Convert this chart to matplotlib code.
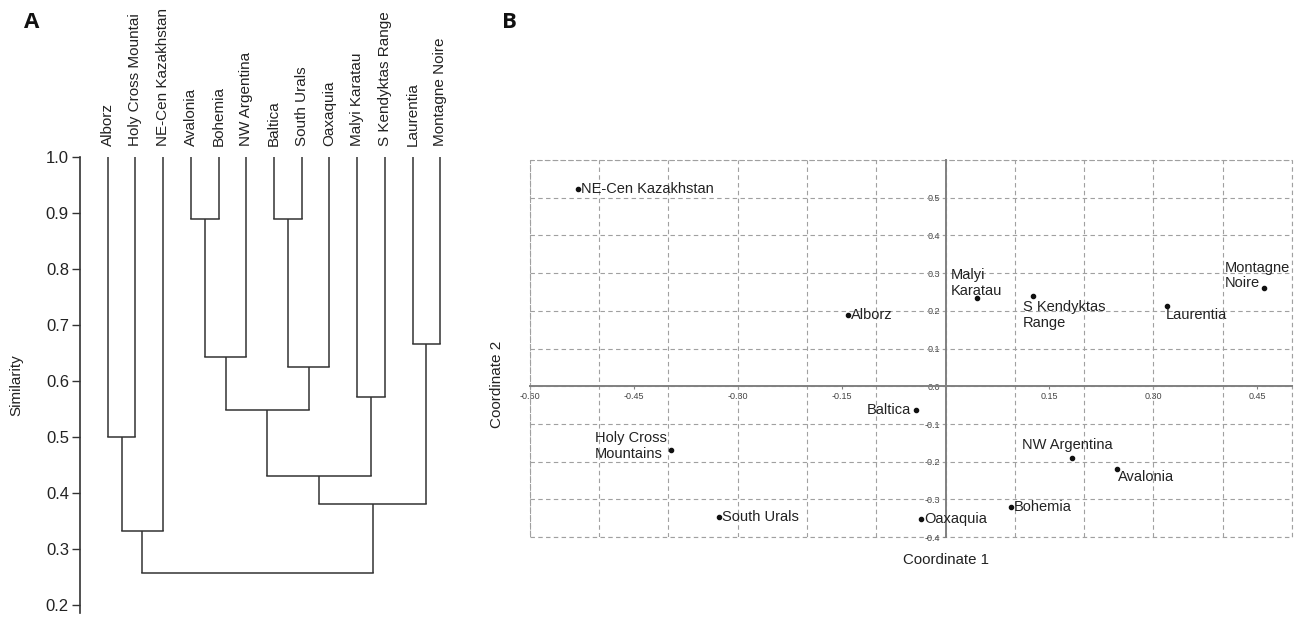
import numpy as np
import matplotlib
matplotlib.use("Agg")
import matplotlib.pyplot as plt
from matplotlib.patches import Rectangle

plt.rcParams["font.family"] = ["Liberation Sans", "DejaVu Sans"]

# --- DATOS ---
# dendrograma (A): hojas en orden y uniones (indices tipo scipy, hojas 0..12)
hojas = ["Alborz", "Holy Cross Mountai", "NE-Cen Kazakhstan", "Avalonia", "Bohemia",
         "NW Argentina", "Baltica", "South Urals", "Oaxaquia", "Malyi Karatau",
         "S Kendyktas Range", "Laurentia", "Montagne Noire"]
union_izq = [3, 6, 13, 14, 9, 11, 0, 15, 20, 21, 19, 23]
union_der = [4, 7, 5, 8, 10, 12, 1, 16, 17, 18, 2, 22]
union_sim = [0.889, 0.889, 0.643, 0.625, 0.572, 0.667, 0.500, 0.548, 0.430, 0.381, 0.333, 0.257]
sim_ticks = [0.2, 0.3, 0.4, 0.5, 0.6, 0.7, 0.8, 0.9, 1.0]

# PCoA / MDS (B)
sitios = ["NE-Cen Kazakhstan", "Alborz", "Malyi\nKaratau", "S Kendyktas\nRange", "Laurentia",
          "Montagne\nNoire", "Baltica", "Holy Cross\nMountains", "South Urals", "Oaxaquia",
          "Bohemia", "NW Argentina", "Avalonia"]
coord1 = [-0.530, -0.141, 0.045, 0.126, 0.320, 0.460, -0.042, -0.396, -0.327, -0.035, 0.094, 0.182, 0.247]
coord2 = [0.522, 0.190, 0.234, 0.239, 0.213, 0.260, -0.062, -0.169, -0.347, -0.353, -0.321, -0.191, -0.220]
x_ticks_b = [-0.60, -0.45, -0.30, -0.15, 0.15, 0.30, 0.45]
y_ticks_b = [-0.4, -0.3, -0.2, -0.1, 0.0, 0.1, 0.2, 0.3, 0.4, 0.5]

# colocacion de etiquetas (pixeles): dx, dy, ha, va
ETIQ = {
    "NE-Cen Kazakhstan": (3, 0, "left", "center"),
    "Alborz": (3, 0, "left", "center"),
    "Malyi\nKaratau": (-26, 0, "left", "bottom"),
    "S Kendyktas\nRange": (-10, -4, "left", "top"),
    "Laurentia": (-2, -2, "left", "top"),
    "Montagne\nNoire": (-40, -2, "left", "bottom"),
    "Baltica": (-5, 0, "right", "center"),
    "Holy Cross\nMountains": (-4, 4, "right", "center"),
    "South Urals": (3, 0, "left", "center"),
    "Oaxaquia": (3, 0, "left", "center"),
    "Bohemia": (3, 0, "left", "center"),
    "NW Argentina": (-4, 6, "center", "bottom"),
    "Avalonia": (1, -1, "left", "top"),
}

GRIS_REJILLA = "#a0a0a0"
TRAZO = (0, (4, 3))

fig = plt.figure(figsize=(12.95, 6.17), dpi=100)

# --- PANEL A: dendrograma ---
axA = fig.add_axes([80 / 1295, 4 / 617, 388 / 1295, 456 / 617])
LINEA = "#333333"
pos_x = {i: i + 1.0 for i in range(len(hojas))}
altura = {i: 1.0 for i in range(len(hojas))}
for k, (a, b, s) in enumerate(zip(union_izq, union_der, union_sim)):
    nodo = len(hojas) + k
    for h in (a, b):
        axA.plot([pos_x[h], pos_x[h]], [altura[h], s], color=LINEA, lw=1.1, solid_capstyle="butt")
    axA.plot([pos_x[a], pos_x[b]], [s, s], color=LINEA, lw=1.1, solid_capstyle="projecting")
    pos_x[nodo] = (pos_x[a] + pos_x[b]) / 2
    altura[nodo] = s

axA.set_xlim(0, len(hojas) + 1)
axA.set_ylim(0.186, 1.0)
axA.set_yticks(sim_ticks)
axA.set_yticklabels([f"{v:.1f}" for v in sim_ticks])
axA.set_xticks([i + 1 for i in range(len(hojas))])
axA.set_xticklabels(hojas)
axA.tick_params(axis="x", top=True, labeltop=True, bottom=False, labelbottom=False,
                length=0, pad=8, labelrotation=90, labelsize=11, labelcolor="#222222")
axA.tick_params(axis="y", length=6, width=1, color=LINEA, labelsize=12, labelcolor="#222222", pad=2)
for lado in ("top", "right", "bottom"):
    axA.spines[lado].set_visible(False)
axA.spines["left"].set_color(LINEA)
axA.spines["left"].set_linewidth(1.2)
axA.set_ylabel("Similarity", fontsize=11, color="#222222")
axA.yaxis.set_label_coords(-0.145, 0.5)
axA.patch.set_alpha(0)

# --- PANEL B: ordenacion ---
axB = fig.add_axes([529.7 / 1295, 79.8 / 617, 762.3 / 1295, 377.2 / 617])
axB.set_xlim(-0.6, 0.5)
axB.set_ylim(-0.4, 0.6)
axB.xaxis.remove_overlapping_locs = False
axB.yaxis.remove_overlapping_locs = False
axB.set_xticks(np.round(np.arange(-0.6, 0.51, 0.1), 2), minor=True)
axB.set_yticks(np.round(np.arange(-0.4, 0.61, 0.1), 2), minor=True)
axB.set_xticks(x_ticks_b)
axB.set_xticklabels([f"{v:.2f}" for v in x_ticks_b])
axB.set_yticks(y_ticks_b)
axB.set_yticklabels([f"{v:.1f}" for v in y_ticks_b])
axB.grid(False, which="major")
axB.grid(True, which="minor", ls=TRAZO, color=GRIS_REJILLA, lw=0.8)
axB.set_axisbelow(True)
axB.tick_params(which="minor", length=0)
axB.tick_params(which="major", length=2.5, width=0.8, color="#808080", labelsize=6.5,
                labelcolor="#444444", pad=1.5)
# marco punteado exterior
axB.add_patch(Rectangle((0, 0), 1, 1, transform=axB.transAxes, fill=False, ls=TRAZO,
                        ec=GRIS_REJILLA, lw=0.8, clip_on=False, zorder=0.5))
axB.spines["left"].set_position(("data", 0))
axB.spines["bottom"].set_position(("data", 0))
for lado in ("left", "bottom"):
    axB.spines[lado].set_color("#808080")
    axB.spines[lado].set_linewidth(1.4)
    axB.spines[lado].set_zorder(3)
for lado in ("top", "right"):
    axB.spines[lado].set_visible(False)

axB.plot(coord1, coord2, "o", color="#111111", ms=3, zorder=4)
for nombre, cx, cy in zip(sitios, coord1, coord2):
    dx, dy, ha, va = ETIQ[nombre]
    axB.annotate(nombre, (cx, cy), xytext=(dx, dy), textcoords="offset pixels",
                 ha=ha, va=va, fontsize=10.5, color="#222222", multialignment="left",
                 linespacing=1.15, zorder=5)

fig.text(946 / 1295, 1 - 560 / 617, "Coordinate 1", ha="center", va="center", fontsize=10.8, color="#222222")
fig.text(497 / 1295, 1 - 384 / 617, "Coordinate 2", ha="center", va="center", rotation=90,
         fontsize=11, color="#222222")

fig.text(32 / 1295, 1 - 22 / 617, "A", ha="center", va="center", fontsize=16,
         fontweight="bold", family=["Open Sans", "DejaVu Sans"], color="#111111")
fig.text(509 / 1295, 1 - 22 / 617, "B", ha="center", va="center", fontsize=16,
         fontweight="bold", family=["Open Sans", "DejaVu Sans"], color="#111111")

fig.savefig("out.png", dpi=100, facecolor="white")
